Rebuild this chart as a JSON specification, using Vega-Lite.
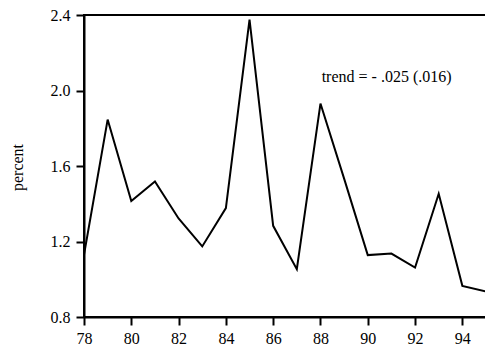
{
  "$schema": "https://vega.github.io/schema/vega-lite/v6.json",
  "width": 402,
  "height": 302,
  "autosize": {"type": "none"},
  "padding": {"left": 84, "top": 15, "right": 0, "bottom": 31},
  "background": "white",
  "config": {
    "font": "Liberation Serif",
    "view": {"stroke": "black", "strokeWidth": 2},
    "axis": {
      "grid": false,
      "domainColor": "black",
      "domainWidth": 2,
      "labelColor": "black",
      "titleColor": "black",
      "titleFontWeight": "normal"
    }
  },
  "data": {
    "values": [
      {"year": 78, "percent": 1.13},
      {"year": 79, "percent": 1.846},
      {"year": 80, "percent": 1.415},
      {"year": 81, "percent": 1.518},
      {"year": 82, "percent": 1.322},
      {"year": 83, "percent": 1.174},
      {"year": 84, "percent": 1.377},
      {"year": 85, "percent": 2.376},
      {"year": 86, "percent": 1.283},
      {"year": 87, "percent": 1.053},
      {"year": 88, "percent": 1.931},
      {"year": 89, "percent": 1.533},
      {"year": 90, "percent": 1.128},
      {"year": 91, "percent": 1.136},
      {"year": 92, "percent": 1.062},
      {"year": 93, "percent": 1.453},
      {"year": 94, "percent": 0.965},
      {"year": 95, "percent": 0.935}
    ]
  },
  "layer": [
    {
      "mark": {"type": "line", "color": "black", "strokeWidth": 2, "clip": true},
      "encoding": {
        "x": {
          "field": "year",
          "type": "quantitative",
          "scale": {"domain": [78, 95], "nice": false, "zero": false},
          "axis": {
            "title": null,
            "values": [78, 79, 80, 81, 82, 83, 84, 85, 86, 87, 88, 89, 90, 91, 92, 93, 94, 95],
            "format": "d",
            "labelExpr": "datum.value % 2 == 0 ? datum.label : ''",
            "ticks": true,
            "tickSize": 8,
            "tickWidth": 2,
            "tickColor": "black",
            "labelFont": "Liberation Serif",
            "labelFontSize": 16,
            "labelPadding": 5,
            "labelFlush": false,
            "labelOverlap": false
          }
        },
        "y": {
          "field": "percent",
          "type": "quantitative",
          "scale": {"domain": [0.8, 2.4], "nice": false, "zero": false},
          "axis": {
            "title": "percent",
            "values": [0.8, 1.2, 1.6, 2.0, 2.4],
            "format": ".1f",
            "ticks": true,
            "tickSize": 8,
            "tickWidth": 2,
            "tickColor": "black",
            "labelFont": "Liberation Serif",
            "labelFontSize": 16,
            "labelPadding": 6,
            "labelFlush": false,
            "labelOverlap": false,
            "titleFont": "Liberation Serif",
            "titleFontSize": 16,
            "titleAngle": -90,
            "titleX": -67,
            "titleY": 152,
            "titleAlign": "center",
            "titleBaseline": "middle"
          }
        }
      }
    },
    {
      "data": {"values": [{"year": 88.05, "percent": 2.043, "label": "trend = - .025 (.016)"}]},
      "mark": {"type": "text", "align": "left", "baseline": "alphabetic", "font": "Liberation Serif", "fontSize": 16, "color": "black"},
      "encoding": {
        "x": {"field": "year", "type": "quantitative"},
        "y": {"field": "percent", "type": "quantitative"},
        "text": {"field": "label"}
      }
    }
  ]
}
